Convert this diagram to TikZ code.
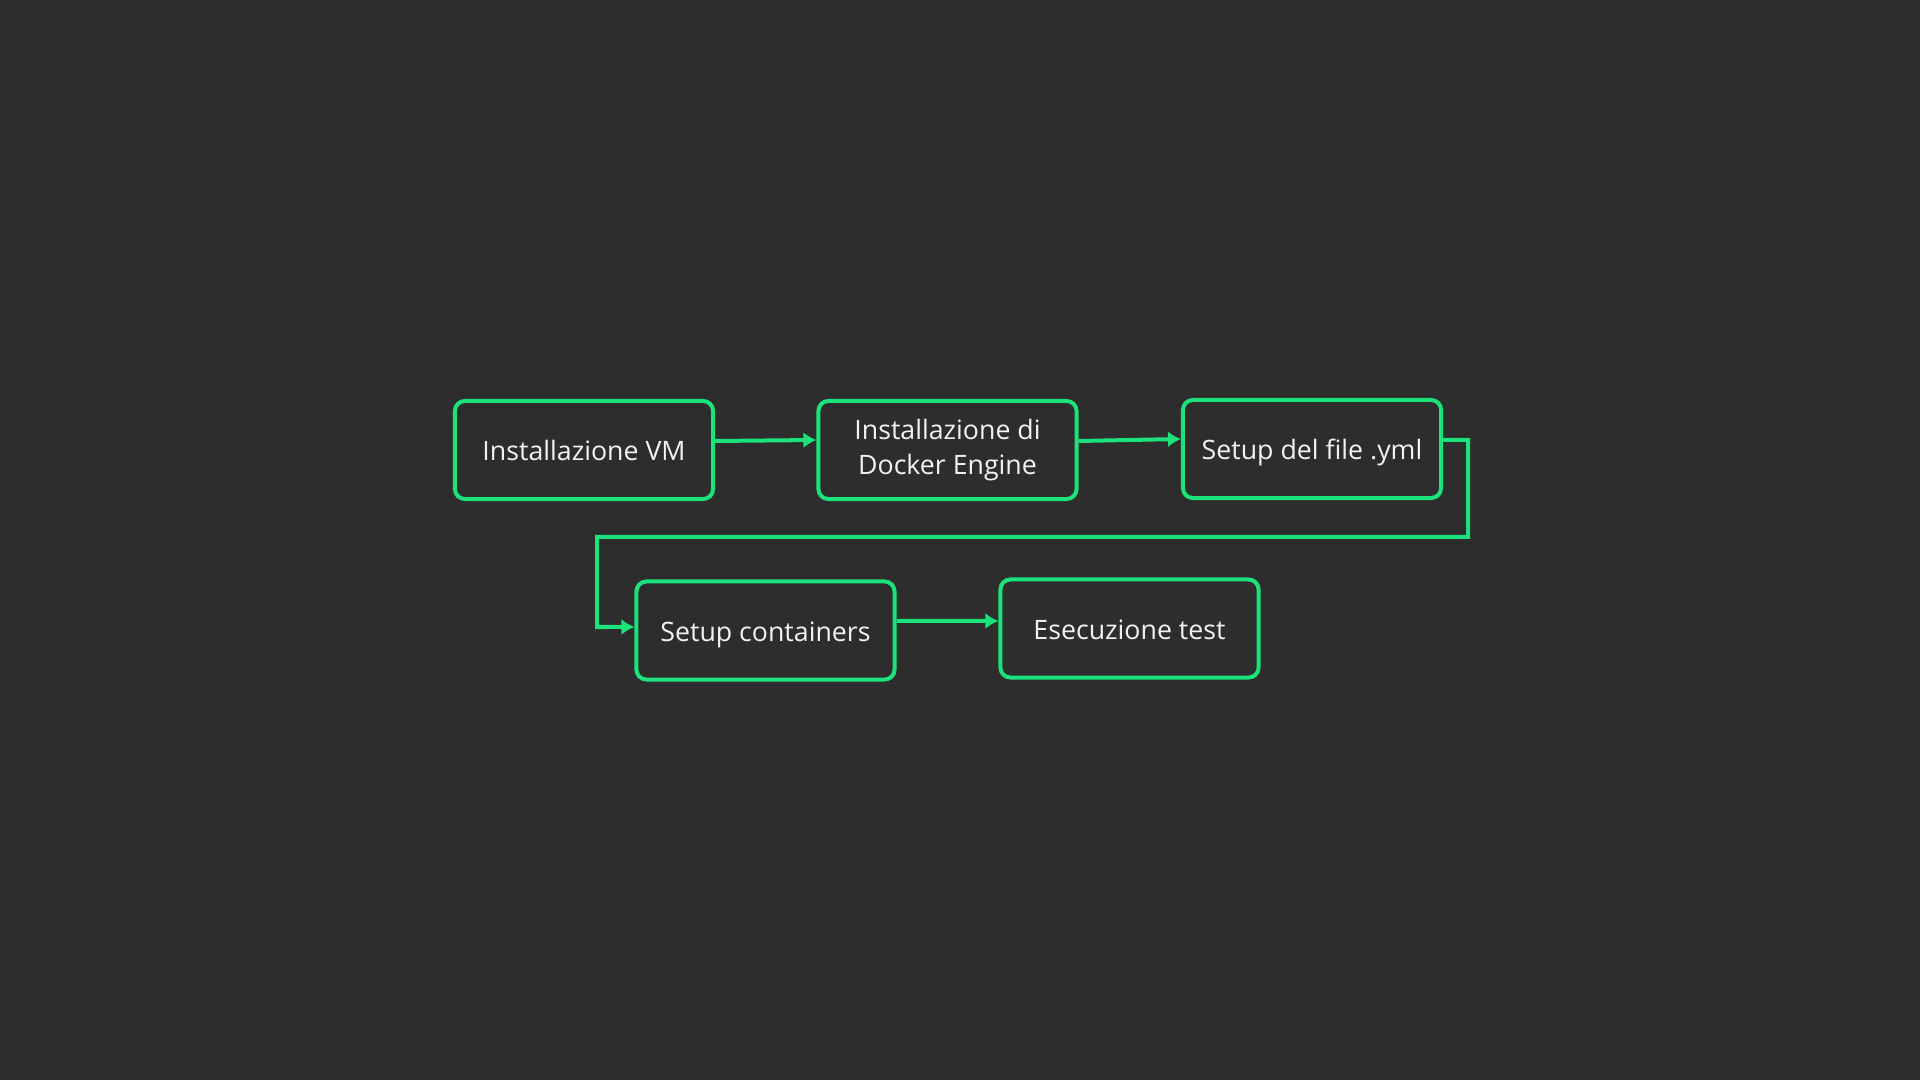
\documentclass[tikz,border=0pt]{standalone}
\usepackage{fontspec}
\setmainfont{Open Sans}
\usetikzlibrary{arrows.meta}
\definecolor{hintergrund}{HTML}{2D2D2D}
\definecolor{gruen}{HTML}{1BE27A}
\definecolor{schrift}{HTML}{F2F2F2}

\def\einheit{0.01}
\def\stelle#1#2{({(#1)*\einheit},{(-#2)*\einheit})}
\tikzset{
	schritt/.style={draw=gruen, line width=0.04cm, rounded corners=0.1cm,
		minimum width=2.58cm, minimum height=0.98cm, align=center,
		text=schrift, font=\fontsize{7.6}{9.9}\selectfont, inner sep=0pt},
	zeile/.style={text height=1.6ex, text depth=0.45ex},
	pfeil/.style={draw=gruen, line width=0.04cm, ->},
}

\begin{document}
\begin{tikzpicture}[>={Latex[length=0.13cm,width=0.16cm]}]
	\fill[hintergrund] \stelle{0}{0} rectangle \stelle{1920}{1080};
	\useasboundingbox \stelle{0}{0} rectangle \stelle{1920}{1080};
	% obere Reihe
	\node[schritt,zeile] (vm) at \stelle{584}{450} {Installazione VM};
	\node[schritt] (docker) at \stelle{947.5}{450} {Installazione di\\Docker Engine};
	\node[schritt,zeile] (yml) at \stelle{1312}{449} {Setup del file .yml};
	% untere Reihe
	\node[schritt,zeile] (cont) at \stelle{765.5}{630.5} {Setup containers};
	\node[schritt,zeile] (test) at \stelle{1129.5}{628.5} {Esecuzione test};
	% Verbindungen
	\path \stelle{1468}{537} coordinate (knick);
	\path \stelle{597}{627} coordinate (rueck);
	\draw[pfeil] ([yshift=0.09cm]vm.east) -- ([yshift=0.1cm]docker.west);
	\draw[pfeil] ([yshift=0.09cm]docker.east) -- ([yshift=0.1cm]yml.west);
	\draw[pfeil] ([yshift=0.09cm]yml.east) -| (knick) -| (rueck) -- ([yshift=0.035cm]cont.west);
	\draw[pfeil] ([yshift=0.095cm]cont.east) -- ([yshift=0.075cm]test.west);
\end{tikzpicture}
\end{document}
